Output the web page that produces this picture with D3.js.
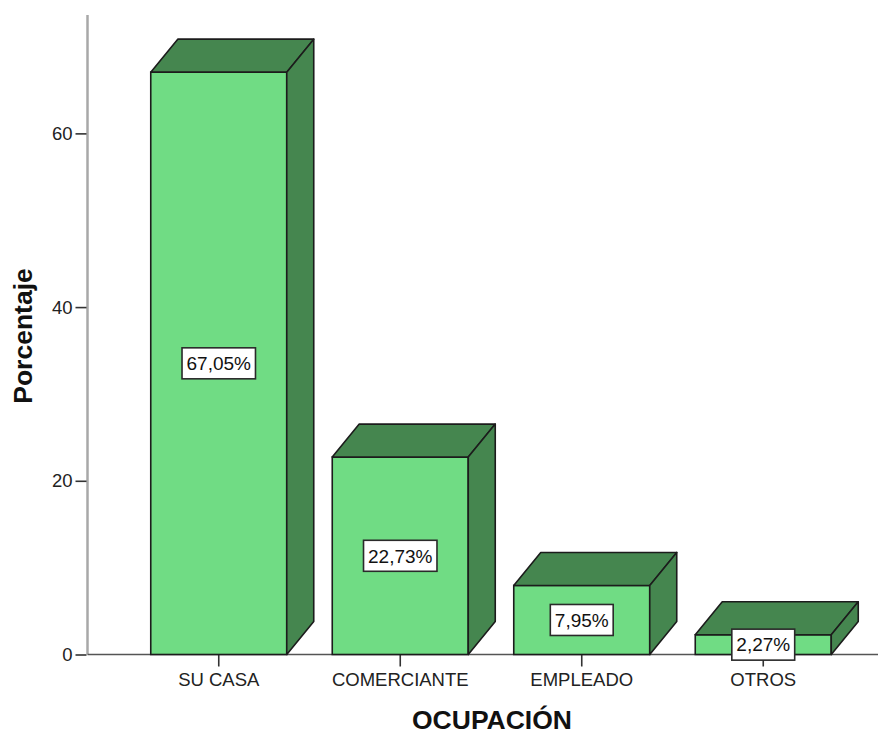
<!DOCTYPE html>
<html>
<head>
<meta charset="utf-8">
<script src="https://cdn.jsdelivr.net/npm/d3@7"></script>
<style>
  html, body { margin: 0; padding: 0; background: #ffffff; }
  svg { display: block; font-family: "Liberation Sans", Arial, sans-serif; }
</style>
</head>
<body>
<svg id="chart" width="878" height="734"></svg>
<script>
// Ocupación: porcentaje por categoría
const categories = ["SU CASA", "COMERCIANTE", "EMPLEADO", "OTROS"];
const percentages = [67.05, 22.73, 7.95, 2.27];
const percentLabels = ["67,05%", "22,73%", "7,95%", "2,27%"];
const yTicks = [0, 20, 40, 60];

const svg = d3.select("#chart");

const frontColor = "#70dc84";
const darkColor = "#45864f";
const edgeColor = "#1c1c1c";
const depthX = 27, depthY = 33;

const x = d3.scaleBand()
  .domain(categories)
  .range([128, 854])
  .paddingInner(0.2507)
  .paddingOuter(0.12535);

const y = d3.scaleLinear()
  .domain([0, 73.63])
  .range([654.5, 15]);

// Y axis
const yAxisX = 87.5;
svg.append("line")
  .attr("x1", yAxisX).attr("x2", yAxisX)
  .attr("y1", y.range()[1]).attr("y2", y(0))
  .attr("stroke", "#a8a8a8").attr("stroke-width", 2.5);

const yAxis = d3.axisLeft(y).tickValues(yTicks).tickSize(11).tickPadding(3).tickFormat(d3.format("d"));
const yg = svg.append("g").attr("transform", `translate(${yAxisX - 1},0)`).call(yAxis);
yg.select(".domain").remove();
yg.selectAll(".tick line").attr("stroke", "#333").attr("stroke-width", 1.6);
yg.selectAll(".tick text")
  .attr("fill", "#222")
  .style("font-size", "18.5px")
  .style("font-family", "'Liberation Sans', Arial, sans-serif");

// X axis baseline and ticks
svg.append("line")
  .attr("x1", yAxisX).attr("x2", 878)
  .attr("y1", y(0)).attr("y2", y(0))
  .attr("stroke", "#555").attr("stroke-width", 1.3);

const xAxis = d3.axisBottom(x).tickSize(12).tickPadding(6);
const xg = svg.append("g").attr("transform", `translate(0,${y(0)})`).call(xAxis);
xg.select(".domain").remove();
xg.selectAll(".tick line").attr("stroke", "#333").attr("stroke-width", 1.6);
xg.selectAll(".tick text")
  .attr("fill", "#222")
  .style("font-size", "18.5px")
  .style("font-family", "'Liberation Sans', Arial, sans-serif");

// 3D bars
const data = categories.map((c, i) => ({ cat: c, value: percentages[i], label: percentLabels[i] }));
const bw = x.bandwidth();

const bars = svg.append("g").selectAll("g.bar").data(data).join("g").attr("class", "bar");

bars.each(function (d) {
  const g = d3.select(this);
  const x0 = x(d.cat), x1 = x0 + bw;
  const yt = y(d.value), yb = y(0);
  // front face
  g.append("rect")
    .attr("x", x0).attr("y", yt)
    .attr("width", bw).attr("height", yb - yt)
    .attr("fill", frontColor)
    .attr("stroke", edgeColor).attr("stroke-width", 1.6);
  // top face
  g.append("path")
    .attr("d", `M${x0},${yt} L${x0 + depthX},${yt - depthY} L${x1 + depthX},${yt - depthY} L${x1},${yt} Z`)
    .attr("fill", darkColor)
    .attr("stroke", edgeColor).attr("stroke-width", 1.6).attr("stroke-linejoin", "round");
  // side face
  g.append("path")
    .attr("d", `M${x1},${yt} L${x1 + depthX},${yt - depthY} L${x1 + depthX},${yb - depthY} L${x1},${yb} Z`)
    .attr("fill", darkColor)
    .attr("stroke", edgeColor).attr("stroke-width", 1.6).attr("stroke-linejoin", "round");
});

// Value labels in boxes, centered on the front face
const labels = svg.append("g").selectAll("g.lbl").data(data).join("g").attr("class", "lbl")
  .attr("transform", d => `translate(${x(d.cat) + bw / 2},${(y(d.value) + y(0)) / 2})`);

labels.each(function (d) {
  const g = d3.select(this);
  const rect = g.append("rect");
  const t = g.append("text")
    .attr("text-anchor", "middle")
    .attr("dy", "0.36em")
    .attr("fill", "#111")
    .style("font-size", "19px")
    .text(d.label);
  const w = t.node().getComputedTextLength() + 9;
  const h = 31;
  rect.attr("x", -w / 2).attr("y", -h / 2)
    .attr("width", w).attr("height", h)
    .attr("fill", "#ffffff")
    .attr("stroke", "#2a2a2a").attr("stroke-width", 1.6);
});

// Axis titles
svg.append("text")
  .attr("x", 492).attr("y", 729)
  .attr("text-anchor", "middle")
  .attr("fill", "#111")
  .style("font-size", "26.5px").style("font-weight", "bold")
  .text("OCUPACIÓN");

svg.append("text")
  .attr("transform", "translate(31.5,336) rotate(-90)")
  .attr("text-anchor", "middle")
  .attr("fill", "#111")
  .style("font-size", "26.5px").style("font-weight", "bold")
  .text("Porcentaje");
</script>
</body>
</html>
